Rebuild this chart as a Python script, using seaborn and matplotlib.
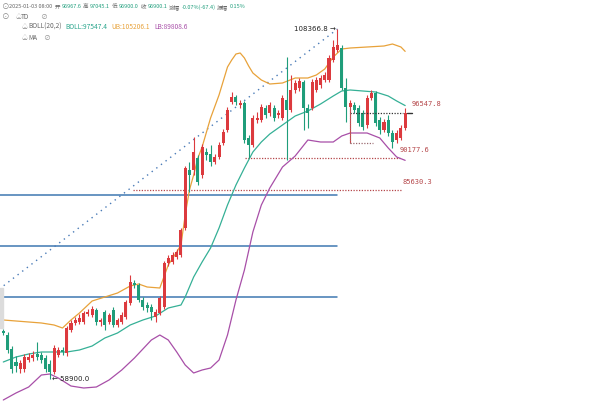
import matplotlib
matplotlib.use("Agg")
import matplotlib.pyplot as plt
import seaborn as sns

# ---------------- data (daily BTC candles) ----------------
opens = [65694, 65129, 63151, 61314, 60325, 60325, 61597, 61879, 62444, 62303,
         61879, 61031, 59901, 62303, 63010, 62586, 65836, 66825, 66966, 66966,
         68096, 67955, 68662, 66966, 68379, 66966, 68662, 66542, 66966, 67672,
         69651, 72477, 72194, 70075, 69368, 69085, 67672, 68238, 69085, 75303,
         75444, 76150, 76433, 80248, 88444, 88444, 90139, 87737, 90987, 90704,
         89574, 90280, 92259, 94096, 98052, 98758, 97628, 97911, 92965, 91976,
         95509, 95509, 97204, 96498, 97204, 96215, 95791, 98335, 96922, 99748,
         100030, 100878, 97204, 97204, 99748, 100454, 101161, 101161, 103987, 105400,
         105682, 100030, 97345, 97628, 97204, 96498, 94802, 98617, 99324, 95509,
         94096, 95509, 93672, 92683, 92965, 94378]
highs = [65977, 65553, 63575, 62162, 61597, 62444, 62586, 62868, 64140, 62727,
         62303, 61597, 63716, 63433, 63433, 66401, 67249, 67672, 68096, 68520,
         68803, 69227, 68944, 67531, 68662, 68238, 69085, 67531, 68379, 70075,
         73607, 72901, 72477, 70498, 69792, 69509, 68803, 70640, 75585, 76433,
         76857, 77281, 80248, 89009, 89574, 93106, 90563, 92117, 91552, 91976,
         90704, 92400, 94237, 97345, 99465, 99041, 98335, 98193, 93389, 96215,
         96639, 97769, 97628, 98052, 97628, 96922, 99041, 104410, 101867, 101161,
         101443, 101161, 97769, 101302, 101584, 101867, 102291, 104693, 106812, 108366.8,
         106106, 101443, 98335, 98052, 97628, 96922, 99041, 99748, 99606, 95932,
         95650, 96215, 94096, 94096, 94802, 97204]
lows = [65129, 62586, 59760, 59901, 59760, 59901, 61314, 61455, 61597, 61173,
        59901, 58900, 59618, 62020, 62303, 62162, 65553, 66542, 66683, 66683,
        67814, 67672, 66542, 66401, 65836, 66683, 66259, 66259, 66683, 67390,
        69368, 71770, 69792, 68662, 68379, 67249, 66966, 67955, 68803, 74879,
        75161, 75868, 76150, 79966, 85335, 87737, 86324, 87313, 89857, 89009,
        89291, 89998, 91976, 93813, 97769, 97628, 97204, 92259, 90177.6, 91693,
        95085, 95226, 95791, 96074, 95367, 95791, 95509, 89857, 96639, 99324,
        99606, 94096, 94378, 96922, 99465, 100030, 100878, 100878, 103704, 105117,
        99748, 95226, 92259, 96498, 94661, 94096, 94378, 98335, 94661, 93530,
        93813, 93248, 91552, 92259, 92683, 94096]
closes = [65412, 63010, 60325, 60749, 61173, 62020, 62020, 62303, 62020, 61597,
          60325, 59901, 63292, 63010, 62727, 66118, 66825, 67249, 67531, 68238,
          68379, 68803, 66966, 67249, 66542, 67955, 66542, 67249, 67955, 69792,
          72618, 72194, 70075, 69085, 68944, 68379, 68379, 70357, 75303, 76009,
          76433, 76857, 79966, 88726, 87737, 90987, 86748, 91693, 90563, 89574,
          90280, 91976, 93813, 96922, 98758, 98052, 97911, 92683, 91976, 95791,
          95791, 97345, 96215, 97628, 95791, 96498, 98617, 96922, 99748, 100737,
          101019, 97204, 96498, 100878, 101161, 101443, 101867, 104269, 105823, 106106,
          100030, 97345, 97911, 96922, 95085, 94519, 98617, 99324, 95085, 94096,
          95226, 93672, 92400, 93672, 94378, 96547.8]

# Bollinger bands (20,2) at candle indices
ub_idx = [0, 3, 6, 9, 12, 14, 16, 18, 21, 24, 27, 30, 32, 34, 37, 39, 41, 42, 43, 44,
          45, 46, 47, 49, 51, 53, 54, 55, 56, 57, 58, 59, 61, 63, 66, 69, 72, 74, 76, 78,
          80, 82, 86, 90, 92, 94, 95]
ub_val = [67249, 67107, 66966, 66825, 66542, 66118, 67249, 68238, 69933, 70498,
          71063, 72053, 72335, 71911, 71770, 75020, 76857, 77846, 82085, 85617,
          87737, 90139, 91693, 95791, 99041, 102997, 103987, 104834, 104976, 104269,
          103139, 102150, 101161, 100595, 100737, 101443, 101443, 101867, 102715, 104410,
          105541, 105682, 105823, 105965, 106247, 105823, 105206.1]
mid_idx = [0, 3, 6, 9, 12, 15, 18, 21, 24, 27, 30, 33, 36, 39, 42, 43, 45, 47, 49, 51,
           53, 55, 57, 59, 61, 63, 66, 69, 72, 75, 78, 80, 82, 85, 88, 91, 93, 95]
mid_val = [61314, 62020, 62444, 62727, 62727, 62727, 63010, 63575, 64705, 65412,
           66542, 67249, 67814, 68944, 69368, 70498, 73324, 75444, 77422, 80248,
           83498, 86324, 88726, 90987, 92400, 93530, 94802, 96074, 96780, 97769,
           98900, 99606, 99748, 99606, 99465, 98900, 98193, 97547.4]
lb_idx = [0, 3, 6, 9, 11, 13, 16, 19, 22, 25, 28, 31, 35, 37, 39, 41, 43, 45, 47, 49,
          51, 53, 55, 57, 59, 61, 63, 66, 69, 72, 75, 78, 80, 82, 86, 89, 91, 93, 95]
lb_val = [55945, 56934, 57782, 59477, 59618, 59053, 57923, 57640, 57782, 58771,
          60184, 61879, 64422, 65129, 64422, 62727, 60890, 59760, 60184, 60466,
          61597, 65129, 70075, 74313, 79683, 83498, 85900, 88867, 90422, 92683,
          92400, 92400, 93248, 93672, 93672, 92965, 91552, 90280, 89808.6]

# drawn levels / annotations
blue_levels = [84911, 77705, 70498]
blue_span = [-1, 78.9]
dotted_levels = [85630.3, 90177.6]
dotted_start = [30.7, 57.1]
dotted_end = [94.3, 93.8]
box_top, box_bottom = 96547.8, 92259
box_left, box_right, box_bottom_right = 82, 94.5, 87.4
trend_idx = [-1, 79]
trend_val = [71600, 108366.8]
high_label = (79, 108366.8, "108366.8")
low_label = (11, 58900.0, "58900.0")

legend_line1 = [("2025-01-03 08:00", "g"), ("开", "g"), ("96967.6", "t"),
                ("高", "g"), ("97045.1", "t"), ("低", "g"), ("96900.0", "t"),
                ("收", "g"), ("96900.1", "t"), ("涨幅", "g"),
                ("-0.07%(-67.4)", "t"), ("振幅", "g"), ("0.15%", "t")]

# ---------------- style ----------------
sns.set_theme(style="white")
plt.rcParams["font.family"] = ["Noto Sans CJK SC", "DejaVu Sans"]

RED = "#dc3a3e"
GREEN = "#1f9d7a"
C_UB = "#e8a23a"
C_MID = "#35b096"
C_LB = "#a84fa8"
BLUE = "#3f78b2"
MAROON = "#b5474a"

W, H = 600, 403
fig = plt.figure(figsize=(6.0, 4.03), dpi=100)
ax = fig.add_axes([0, 0, 1, 1])
ax.set_xlim(-0.78, 141.06)
ax.set_ylim(55520.6, 112464.5)
ax.axis("off")

# candles
for i, (o, h, l, c) in enumerate(zip(opens, highs, lows, closes)):
    col = RED if c >= o else GREEN
    ax.vlines(i, l, h, color=col, lw=0.8, zorder=3)
    body = max(abs(c - o), 130)
    ax.bar(i, body, bottom=min(o, c), width=0.72, color=col, lw=0, zorder=4)

# bollinger bands via seaborn
sns.lineplot(x=ub_idx, y=ub_val, ax=ax, color=C_UB, lw=0.9, zorder=2)
sns.lineplot(x=mid_idx, y=mid_val, ax=ax, color=C_MID, lw=0.9, zorder=2)
sns.lineplot(x=lb_idx, y=lb_val, ax=ax, color=C_LB, lw=0.9, zorder=2)

# horizontal blue levels
for lv in blue_levels:
    ax.plot(blue_span, [lv, lv], color=BLUE, lw=1.1, zorder=1)

# trend line
ax.plot(trend_idx, trend_val, color="#4a7bb7", lw=1.0, ls=(0, (1, 3.2)), zorder=1)

# dotted support levels with labels
for lv, s, e in zip(dotted_levels, dotted_start, dotted_end):
    ax.plot([s, e], [lv, lv], color=MAROON, lw=0.9, ls=(0, (1, 1.2)), zorder=1)
    ax.annotate(f"{lv:.1f}", xy=(e, lv), xytext=(0, 5.8), textcoords="offset points",
                ha="left", va="center", fontsize=5, color=MAROON,
                family="DejaVu Sans Mono")

# box near the latest candles
ax.plot([box_left, box_right], [box_top, box_top], color="#333333", lw=0.9,
        ls=(0, (1, 1.2)), zorder=5)
ax.plot([box_left, box_bottom_right], [box_bottom, box_bottom], color="#9a6a70", lw=0.9,
        ls=(0, (1, 1.2)), zorder=5)
ax.plot([box_left, box_left], [box_bottom, box_top + 700], color="#9a6a70", lw=0.8,
        ls=(0, (1, 1.2)), zorder=5)
ax.plot([len(closes) - 0.6, len(closes) + 0.6], [closes[-1], closes[-1]],
        color="#333333", lw=1.0, zorder=5)
ax.annotate(f"{closes[-1]:.1f}", xy=(len(closes) - 1, closes[-1]), xytext=(4.5, 6.2),
            textcoords="offset points", ha="left", va="center", fontsize=5,
            color=MAROON, family="DejaVu Sans Mono")

# high / low markers
ax.annotate(f"{high_label[2]} →", xy=(high_label[0] - 0.3, high_label[1]), ha="right",
            va="center", fontsize=5, color="#222222", family="DejaVu Sans")
ax.annotate(f"← {low_label[2]}", xy=(low_label[0] + 0.6, low_label[1]), ha="left",
            va="center", fontsize=5, color="#222222", family="DejaVu Sans")

# small scrollbar-like block at the left edge
fig.patches.append(plt.Rectangle((0, 1 - 328 / H), 3 / W, 40 / H, transform=fig.transFigure,
                                 color="#dcdcdc", zorder=0))

# ---------------- header legend ----------------
renderer = fig.canvas.get_renderer()
GREY = "#666666"
TEAL = "#1f9e7c"


def ftext(x, y, s, color, size=4.6, **kw):
    return fig.text(x / W, 1 - y / H, s, color=color, fontsize=size, ha="left",
                    va="center", **kw)


def seq_row(y, items, x0, x1, base=5.0, gap=2.0):
    """Lay texts one after another; one font size chosen so the row spans x0..x1."""
    widths = []
    for s, c in items:
        t = ftext(x0, y, s, c, base)
        widths.append(t.get_window_extent(renderer).width)
        t.remove()
    total = sum(widths) + gap * (len(items) - 1)
    scale = (x1 - x0) / total
    size = base * scale
    x = x0
    for (s, c), w in zip(items, widths):
        ftext(x, y, s, c, size)
        x += w * scale + gap * scale


ftext(2, 7, "⊙", "#888888", 5.5)
seq_row(7, [(s, GREY if c == "g" else TEAL) for s, c in legend_line1], 9, 246)
ftext(2, 17, "⊙", "#888888", 5.5)
ftext(16, 17, "♤", "#888888", 4.2)
ftext(21, 17, "TD", GREY, 4.6)
ftext(40, 17, "⊘", "#999999", 5)
ftext(22, 27, "♤", "#888888", 4.2)
seq_row(27, [("BOLL(20,2)", GREY),
             (f"BOLL:{mid_val[-1]:.1f}", "#2aa58c"),
             (f"UB:{ub_val[-1]:.1f}", C_UB),
             (f"LB:{lb_val[-1]:.1f}", C_LB)], 28, 188, gap=4.0)
ftext(22, 38, "♤", "#888888", 4.2)
ftext(28, 38, "MA", GREY, 4.6)
ftext(43, 38, "⊘", "#999999", 5)

fig.savefig("out.png", dpi=100)
